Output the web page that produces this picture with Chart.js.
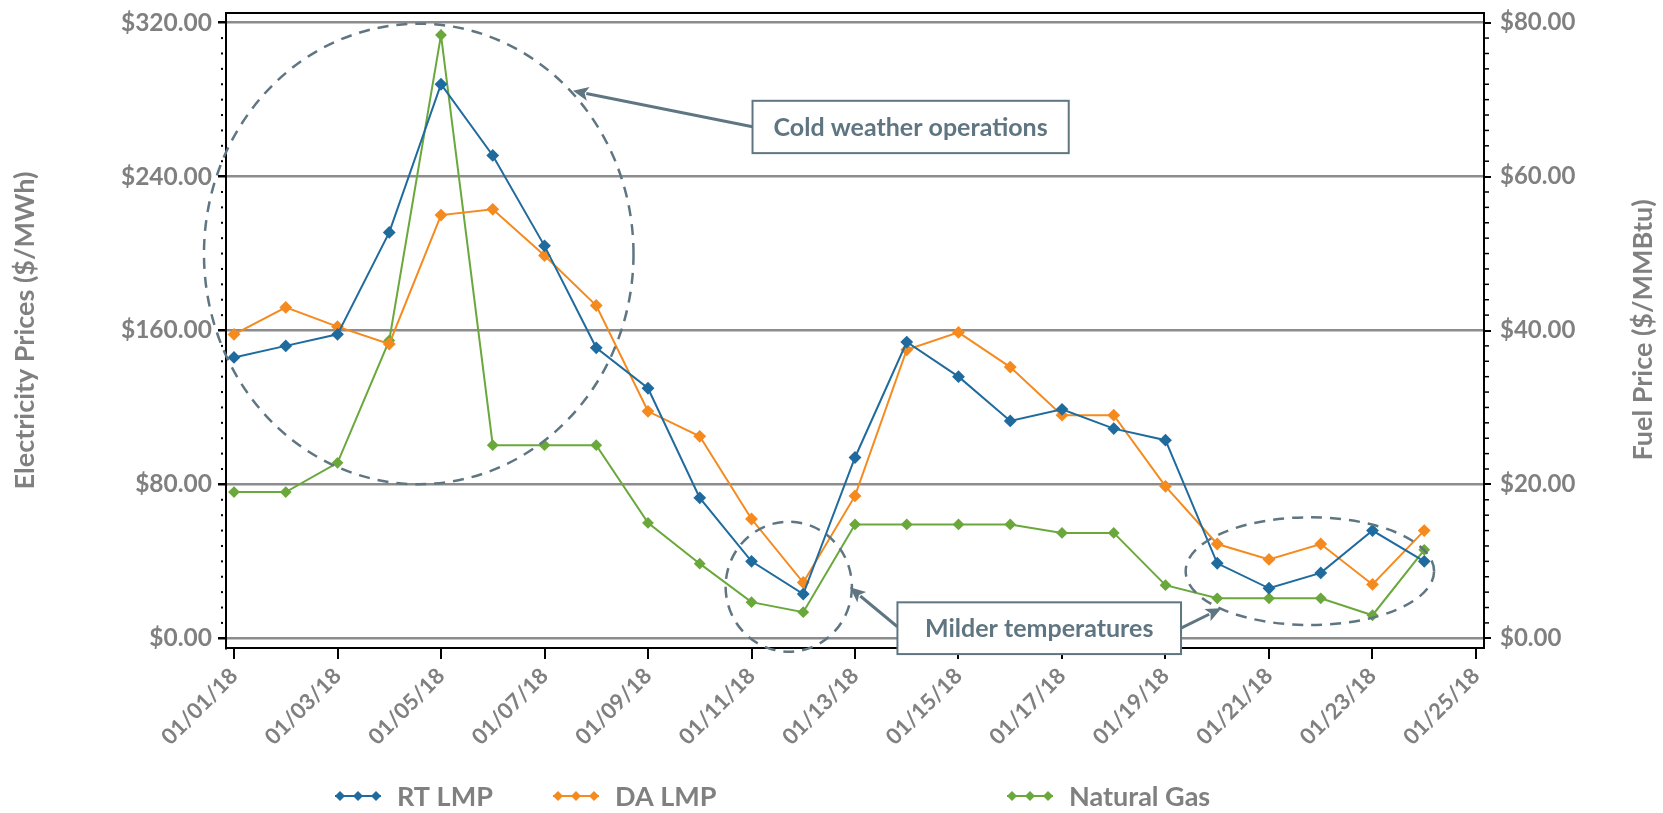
<!DOCTYPE html>
<html>
<head>
<meta charset="utf-8">
<title>Electricity and Fuel Prices</title>
<script src="https://cdn.jsdelivr.net/npm/chart.js@4.4.1/dist/chart.umd.min.js"></script>
<style>
  html, body { margin: 0; padding: 0; background: #fff; }
  #wrap { width: 1663px; height: 813px; }
</style>
</head>
<body>
<div id="wrap"><canvas id="priceChart" width="1663" height="813"></canvas></div>
<script>
// Daily prices, January 2018
const dates = [
  "01/01/18", "01/02/18", "01/03/18", "01/04/18", "01/05/18", "01/06/18",
  "01/07/18", "01/08/18", "01/09/18", "01/10/18", "01/11/18", "01/12/18",
  "01/13/18", "01/14/18", "01/15/18", "01/16/18", "01/17/18", "01/18/18",
  "01/19/18", "01/20/18", "01/21/18", "01/22/18", "01/23/18", "01/24/18"
];
const rtLmp = [146, 152, 158, 211, 288, 251, 204, 151, 130, 73, 40, 23,
               94, 154, 136, 113, 119, 109, 103, 39, 26, 34, 56, 40];
const daLmp = [158, 172, 162, 153, 220, 223, 199, 173, 118, 105, 62, 29,
               74, 150, 159, 141, 116, 116, 79, 49, 41, 49, 28, 56];
const naturalGas = [19.0, 19.0, 22.8, 38.7, 78.4, 25.1, 25.1, 25.1, 15.0, 9.7, 4.7, 3.4,
                    14.8, 14.8, 14.8, 14.8, 13.7, 13.7, 6.9, 5.2, 5.2, 5.2, 3.0, 11.5];

const xTickLabels = ["01/01/18", "01/03/18", "01/05/18", "01/07/18", "01/09/18", "01/11/18",
                     "01/13/18", "01/15/18", "01/17/18", "01/19/18", "01/21/18", "01/23/18", "01/25/18"];
const leftTicks = [0, 80, 160, 240, 320];
const rightTicks = [0, 20, 40, 60, 80];
const seriesNames = ["RT LMP", "DA LMP", "Natural Gas"];

// annotation shapes, in day / $/MWh units
const ellipses = [
  { x: 4.57, y: 199.8, rx: 4.15, ry: 119.7 },
  { x: 11.72, y: 26.8, rx: 1.22, ry: 33.8 },
  { x: 21.79, y: 34.9, rx: 2.4, ry: 28 }
];
const callouts = [
  { text: "Cold weather operations", x1: 11.02, x2: 17.13, y1: 279.4, y2: 252.2,
    arrows: [[11.02, 265.9, 7.55, 284.6]] },
  { text: "Milder temperatures", x1: 13.82, x2: 19.30, y1: 18.7, y2: -8.2,
    arrows: [[13.82, 6.0, 12.90, 26.5], [19.29, 5.2, 20.08, 15.6]] }
];

const colors = ["#1f6b9e", "#f58a1f", "#6aa83c"];
const textGray = "#808080";
const slate = "#5f7682";
const fontFamily = "Lato, 'DejaVu Sans', sans-serif";

const toPoints = (vals) => vals.map((v, i) => ({ x: i + 1, y: v }));

// keep the y scales from pushing the plot box down
const fixWidth = (w) => (scale) => {
  scale.width = w;
  scale.paddingTop = 0;
  scale.paddingBottom = 0;
};

// minor tick marks, top border and the right axis title
const framePlugin = {
  id: "frame",
  afterDraw(chart) {
    const { ctx, chartArea } = chart;
    const y = chart.scales.y, y1 = chart.scales.y1;
    ctx.save();
    ctx.strokeStyle = "#000";
    ctx.lineWidth = 2;
    ctx.beginPath();
    ctx.moveTo(chartArea.left - 1, chartArea.top);
    ctx.lineTo(chartArea.right + 1, chartArea.top);
    ctx.stroke();

    ctx.fillStyle = "#000";
    for (let v = 0; v <= 320; v += 8) {
      if (v % 80 === 0) continue;
      const py = y.getPixelForValue(v);
      ctx.fillRect(chartArea.left - 5, py - 1, 2, 2);
    }
    ctx.lineWidth = 1.5;
    for (let v = 0; v <= 80; v += 2) {
      if (v % 20 === 0) continue;
      const py = y1.getPixelForValue(v);
      ctx.beginPath();
      ctx.moveTo(chartArea.right, py);
      ctx.lineTo(chartArea.right + 5, py);
      ctx.stroke();
    }

    ctx.translate(1643, 330);
    ctx.rotate(-Math.PI / 2);
    ctx.fillStyle = textGray;
    ctx.font = "bold 27px " + fontFamily;
    ctx.textAlign = "center";
    ctx.textBaseline = "middle";
    ctx.fillText("Fuel Price ($/MMBtu)", 0, 0);
    ctx.restore();
  }
};

// dashed circles, callout boxes and arrows
const notesPlugin = {
  id: "notes",
  afterDraw(chart) {
    const { ctx } = chart;
    const xs = chart.scales.x, ys = chart.scales.y;
    const px = (v) => xs.getPixelForValue(v);
    const py = (v) => ys.getPixelForValue(v);
    ctx.save();
    ctx.strokeStyle = slate;
    ctx.lineWidth = 2.5;
    ctx.setLineDash([11, 8]);
    ellipses.forEach((e) => {
      const cx = px(e.x), cy = py(e.y);
      const rx = Math.abs(px(e.x + e.rx) - cx);
      const ry = Math.abs(py(e.y + e.ry) - cy);
      ctx.beginPath();
      ctx.ellipse(cx, cy, rx, ry, 0, 0, Math.PI * 2);
      ctx.stroke();
    });
    ctx.setLineDash([]);

    callouts.forEach((c) => {
      c.arrows.forEach((a) => {
        const x0 = px(a[0]), y0 = py(a[1]), x1 = px(a[2]), y1 = py(a[3]);
        const ang = Math.atan2(y1 - y0, x1 - x0);
        const head = 17;
        ctx.lineWidth = 3;
        ctx.strokeStyle = slate;
        ctx.beginPath();
        ctx.moveTo(x0, y0);
        ctx.lineTo(x1 - Math.cos(ang) * head * 0.8, y1 - Math.sin(ang) * head * 0.8);
        ctx.stroke();
        ctx.fillStyle = slate;
        ctx.beginPath();
        ctx.moveTo(x1, y1);
        ctx.lineTo(x1 - head * Math.cos(ang - 0.42), y1 - head * Math.sin(ang - 0.42));
        ctx.lineTo(x1 - head * 0.7 * Math.cos(ang), y1 - head * 0.7 * Math.sin(ang));
        ctx.lineTo(x1 - head * Math.cos(ang + 0.42), y1 - head * Math.sin(ang + 0.42));
        ctx.closePath();
        ctx.fill();
      });
      const bx = px(c.x1), by = py(c.y1);
      const bw = px(c.x2) - bx, bh = py(c.y2) - by;
      ctx.fillStyle = "#fff";
      ctx.fillRect(bx, by, bw, bh);
      ctx.lineWidth = 2;
      ctx.strokeStyle = slate;
      ctx.strokeRect(bx, by, bw, bh);
      ctx.fillStyle = slate;
      ctx.font = "bold 25px " + fontFamily;
      ctx.textAlign = "center";
      ctx.textBaseline = "middle";
      ctx.fillText(c.text, bx + bw / 2, by + bh / 2 + 1);
    });
    ctx.restore();
  }
};

// legend drawn in fixed slots along the bottom
const legendPlugin = {
  id: "slotLegend",
  afterDraw(chart) {
    const { ctx } = chart;
    const slots = [335, 553, 1007];
    const ly = 796;
    ctx.save();
    chart.data.datasets.forEach((ds, i) => {
      const x = slots[i];
      ctx.strokeStyle = ds.borderColor;
      ctx.fillStyle = ds.borderColor;
      ctx.lineWidth = 2;
      ctx.beginPath();
      ctx.moveTo(x, ly);
      ctx.lineTo(x + 46, ly);
      ctx.stroke();
      [5, 23, 41].forEach((dx) => {
        ctx.beginPath();
        ctx.moveTo(x + dx, ly - 5);
        ctx.lineTo(x + dx + 5, ly);
        ctx.lineTo(x + dx, ly + 5);
        ctx.lineTo(x + dx - 5, ly);
        ctx.closePath();
        ctx.fill();
      });
      ctx.fillStyle = textGray;
      ctx.font = "bold 27px " + fontFamily;
      ctx.textBaseline = "middle";
      ctx.fillText(ds.label, x + 62, ly + 1);
    });
    ctx.restore();
  }
};

const ctx = document.getElementById("priceChart").getContext("2d");

new Chart(ctx, {
  type: "line",
  data: {
    datasets: [
      {
        label: seriesNames[0],
        data: toPoints(rtLmp),
        yAxisID: "y",
        borderColor: colors[0],
        backgroundColor: colors[0],
        borderWidth: 2,
        pointStyle: "rectRot",
        pointRadius: 5,
        tension: 0
      },
      {
        label: seriesNames[1],
        data: toPoints(daLmp),
        yAxisID: "y",
        borderColor: colors[1],
        backgroundColor: colors[1],
        borderWidth: 2,
        pointStyle: "rectRot",
        pointRadius: 5,
        tension: 0
      },
      {
        label: seriesNames[2],
        data: toPoints(naturalGas),
        yAxisID: "y1",
        borderColor: colors[2],
        backgroundColor: colors[2],
        borderWidth: 2,
        pointStyle: "rectRot",
        pointRadius: 4.5,
        tension: 0
      }
    ]
  },
  options: {
    responsive: false,
    animation: false,
    layout: { padding: { top: 13, left: 0, right: 0, bottom: 0 } },
    plugins: {
      legend: { display: false },
      tooltip: { enabled: false }
    },
    scales: {
      x: {
        type: "linear",
        min: 0.8454,
        max: 25.1546,
        afterBuildTicks: (scale) => {
          scale.ticks = xTickLabels.map((_, i) => ({ value: 1 + i * 2 }));
        },
        afterFit: (scale) => { scale.height = 165; },
        grid: { drawOnChartArea: false, color: "#000", tickLength: 11, lineWidth: 2 },
        border: { color: "#000", width: 2 },
        ticks: {
          minRotation: 45,
          maxRotation: 45,
          padding: 4,
          color: textGray,
          font: { family: fontFamily, size: 22, weight: "bold" },
          callback: (value) => xTickLabels[Math.round((value - 1) / 2)]
        }
      },
      y: {
        position: "left",
        min: -5.04,
        max: 325.04,
        afterBuildTicks: (scale) => {
          scale.ticks = leftTicks.map((v) => ({ value: v }));
        },
        afterFit: fixWidth(226),
        grid: { color: "#8c8c8c", lineWidth: 2.5, tickColor: "#000", tickLength: 8 },
        border: { color: "#000", width: 2 },
        title: {
          display: true,
          text: "Electricity Prices ($/MWh)",
          color: textGray,
          padding: { top: 9, bottom: 0 },
          font: { family: fontFamily, size: 27, weight: "bold" }
        },
        ticks: {
          padding: 6,
          color: textGray,
          font: { family: fontFamily, size: 24.5, weight: "bold" },
          callback: (value) => "$" + value.toFixed(2)
        }
      },
      y1: {
        position: "right",
        min: -1.26,
        max: 81.26,
        afterBuildTicks: (scale) => {
          scale.ticks = rightTicks.map((v) => ({ value: v }));
        },
        afterFit: fixWidth(179),
        grid: { drawOnChartArea: false, color: "#000", tickLength: 7, lineWidth: 2 },
        border: { color: "#000", width: 2 },
        ticks: {
          padding: 9,
          color: textGray,
          font: { family: fontFamily, size: 24, weight: "bold" },
          callback: (value) => "$" + value.toFixed(2)
        }
      }
    }
  },
  plugins: [framePlugin, notesPlugin, legendPlugin]
});
</script>
</body>
</html>
